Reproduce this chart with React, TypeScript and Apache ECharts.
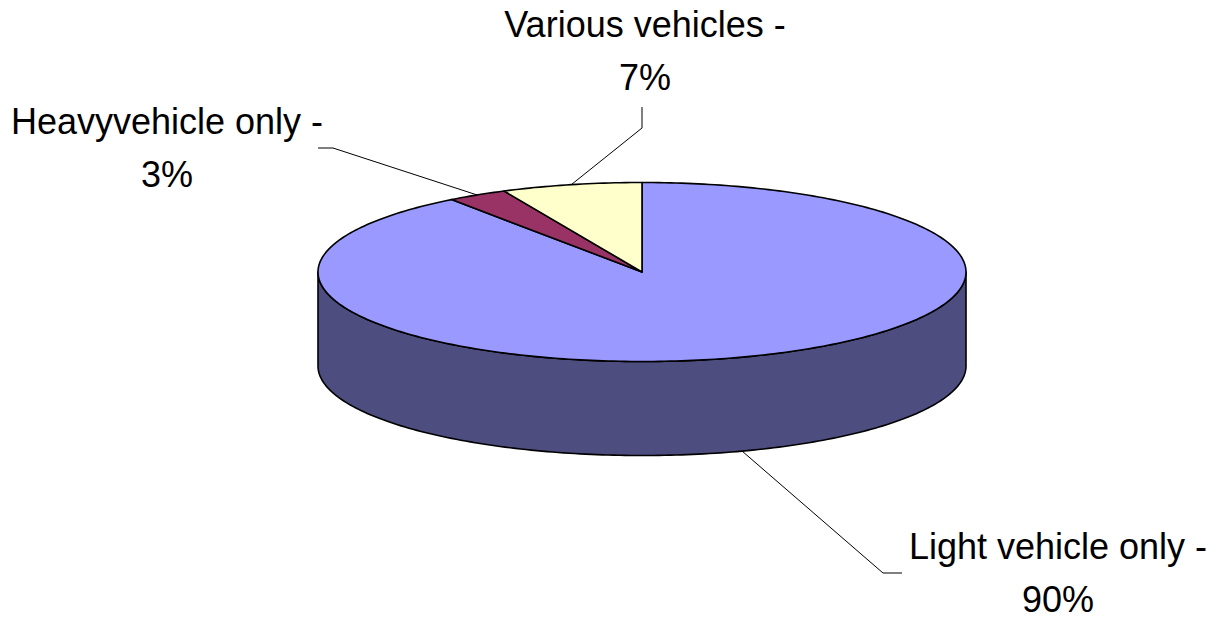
import React, { useEffect, useRef } from "react";
import * as echarts from "echarts";

// ---- data ----
const categories = ["Light vehicle only", "Heavyvehicle only", "Various vehicles"];
const shares = [90, 3, 7];

// ---- styles / layout (not data) ----
const topColors = ["#9999FF", "#993366", "#FFFFCC"];
const sideColors = ["#4D4D80", "#4D1A33", "#80806A"];
const CX = 642;
const CY = 272;
const RX = 324;
const RY = 89.5;
const DEPTH = 94;
// label placement: [leader elbow x, y, leader end x, y, label center x, label center y]
const labelLayout = [
  [883, 573, 902, 573, 1058, 573],
  [333, 148, 318, 148, 167, 148],
  [642, 128, 642, 107, 645, 51],
];

const total = shares.reduce((a, b) => a + b, 0);

function pt(deg: number, dy = 0): number[] {
  const r = (deg * Math.PI) / 180;
  return [CX + RX * Math.sin(r), CY - RY * Math.cos(r) + dy];
}

function arcPoints(a: number, b: number, dy = 0): number[][] {
  const pts: number[][] = [];
  const n = Math.max(2, Math.ceil(Math.abs(b - a)));
  for (let i = 0; i <= n; i++) pts.push(pt(a + ((b - a) * i) / n, dy));
  return pts;
}

function renderItem(params: any, api: any) {
  const idx = params.dataIndex;
  const value = api.value(0);
  let before = 0;
  for (let i = 0; i < idx; i++) before += shares[i];
  const start = (before / total) * 360;
  const end = start + (value / total) * 360;
  const children: any[] = [];

  // visible front side wall (90..270 deg)
  const a = Math.max(start, 90);
  const b = Math.min(end, 270);
  if (b > a) {
    const topArc = arcPoints(a, b, 0);
    const botArc = arcPoints(b, a, DEPTH);
    children.push({
      type: "polygon",
      z2: 1,
      shape: { points: topArc.concat(botArc) },
      style: { fill: sideColors[idx], stroke: "#000", lineWidth: 1.6, lineJoin: "round" },
    });
  }

  // top face
  children.push({
    type: "polygon",
    z2: 10,
    shape: { points: [[CX, CY]].concat(arcPoints(start, end, 0)) },
    style: { fill: topColors[idx], stroke: "#000", lineWidth: 1.6, lineJoin: "round" },
  });

  // leader line from mid-angle on the outer edge
  const mid = (start + end) / 2;
  const front = mid > 90 && mid < 270;
  const p0 = pt(mid, front ? DEPTH : 0);
  const L = labelLayout[idx];
  children.push({
    type: "polyline",
    z2: 20,
    shape: { points: [p0, [L[0], L[1]], [L[2], L[3]]] },
    style: { stroke: "#000", lineWidth: 1, fill: null },
  });

  const pct = Math.round((value / total) * 100);
  children.push({
    type: "text",
    z2: 30,
    x: L[4],
    y: L[5],
    style: {
      text: categories[idx] + " -\n" + pct + "%",
      fill: "#000",
      fontSize: 36,
      fontFamily: 'Arial, "Liberation Sans", sans-serif',
      align: "center",
      verticalAlign: "middle",
      lineHeight: 53,
    },
  });

  return { type: "group", children };
}

export default function App() {
  const ref = useRef<HTMLDivElement>(null);
  useEffect(() => {
    if (!ref.current) return;
    const chart = echarts.init(ref.current, null, { renderer: "svg" });
    chart.setOption({
      animation: false,
      backgroundColor: "#ffffff",
      series: [
        {
          type: "custom",
          coordinateSystem: "none",
          renderItem,
          data: shares.map((v, i) => ({ name: categories[i], value: [v] })),
        },
      ],
    });
    return () => chart.dispose();
  }, []);
  return (
    <div
      ref={ref}
      style={{ position: "fixed", left: 0, top: 0, width: 1216, height: 620, background: "#fff" }}
    />
  );
}
